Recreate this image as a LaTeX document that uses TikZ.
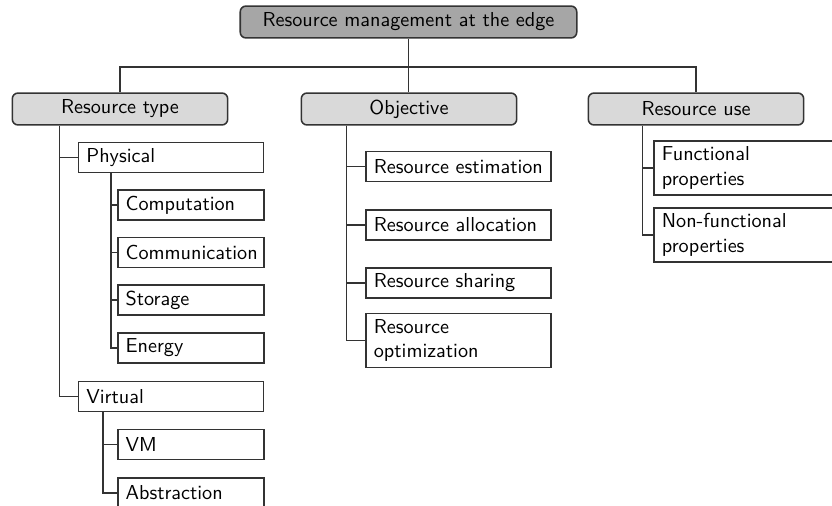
\documentclass[tikz,border=0pt]{standalone}
\usepackage{tikz}
\tikzset{
  boxfont/.style={font=\sffamily\fontsize{10.5}{12.8}\selectfont},
  rootbox/.style={draw=black!80, line width=0.8pt, fill=gray!70, rounded corners=3pt,
    minimum width=175pt, minimum height=16.6pt, boxfont},
  catbox/.style={draw=black!80, line width=0.8pt, fill=gray!30, rounded corners=3pt,
    minimum width=112pt, minimum height=16.6pt, boxfont},
  leafbox/.style={draw=black!80, line width=0.8pt, fill=white, align=left,
    inner xsep=4pt, inner ysep=3pt, minimum height=15.6pt, text width=#1, boxfont},
  leafbox/.default=88pt,
  link/.style={draw=black!80, line width=0.8pt}
}

\begin{document}
\begin{tikzpicture}[x=0.52pt,y=-0.52pt]
      \clip (0,0) rectangle (832,506);
      \path
      (408.5,22) node[rootbox](root) {Resource management at the edge}
      (120,109) node[catbox](type) {Resource type}
      (409,109) node[catbox](obj) {Objective}
      (696,109) node[catbox](use) {Resource use}
      ;
      \coordinate (bar) at (408,67);

      \path
      (171,157.5) node[leafbox](phys) {Physical}
      (191,205) node[leafbox=68pt](comp) {Computation}
      (191,252.5) node[leafbox=68pt](comm) {Communication}
      (191,300) node[leafbox=68pt](stor) {Storage}
      (191,348) node[leafbox=68pt](ener) {Energy}
      (171,396.5) node[leafbox](virt) {Virtual}
      (191,444.5) node[leafbox=68pt](vm) {VM}
      (191,493) node[leafbox=68pt](abst) {Abstraction}
      ;
      \path
      (458.5,166.5) node[leafbox](est) {Resource estimation}
      (458.5,225) node[leafbox](alloc) {Resource allocation}
      (458.5,283) node[leafbox](share) {Resource sharing}
      (458.5,340.5) node[leafbox](optim) {Resource\\optimization}
      ;
      \path
      (746.5,168) node[leafbox](func) {Functional\\properties}
      (746.5,235) node[leafbox](nonf) {Non-functional\\properties}
      ;

      \draw[link] (root.south) -- (root.south |- obj.north);
      \draw[link] (type.north) |- (bar) -| (use.north);

      \draw[link] ([xshift=25pt]type.south west) |- (phys.west);
      \draw[link] ([xshift=25pt]type.south west) |- (virt.west);
      \draw[link] ([xshift=17.2pt]phys.south west) |- (comp.west);
      \draw[link] ([xshift=17.2pt]phys.south west) |- (comm.west);
      \draw[link] ([xshift=17.2pt]phys.south west) |- (stor.west);
      \draw[link] ([xshift=17.2pt]phys.south west) |- (ener.west);
      \draw[link] ([xshift=13pt]virt.south west) |- (vm.west);
      \draw[link] ([xshift=13pt]virt.south west) |- (abst.west);

      \draw[link] ([xshift=23.9pt]obj.south west) |- (est.west);
      \draw[link] ([xshift=23.9pt]obj.south west) |- (alloc.west);
      \draw[link] ([xshift=23.9pt]obj.south west) |- (share.west);
      \draw[link] ([xshift=23.9pt]obj.south west) |- (optim.west);

      \draw[link] ([xshift=28.6pt]use.south west) |- (func.west);
      \draw[link] ([xshift=28.6pt]use.south west) |- (nonf.west);
    \end{tikzpicture}
\end{document}
